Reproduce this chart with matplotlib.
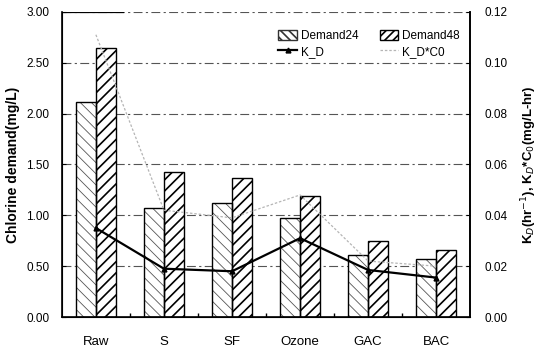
import numpy as np
import matplotlib.pyplot as plt
from matplotlib.patches import Patch

plt.rcParams['font.family'] = ['Liberation Sans', 'DejaVu Sans']

processes = ['Raw', 'S', 'SF', 'Ozone', 'GAC', 'BAC']
demand24 = [2.11, 1.07, 1.12, 0.97, 0.61, 0.57]
demand48 = [2.64, 1.43, 1.37, 1.19, 0.75, 0.66]
k_d = [0.035, 0.019, 0.018, 0.031, 0.0185, 0.0155]
k_d_c0 = [0.111, 0.042, 0.039, 0.048, 0.022, 0.020]

x = np.arange(len(processes))
w = 0.29

fig = plt.figure(figsize=(5.38, 3.48), dpi=100)
ax = fig.add_axes([0.115, 0.089, 0.759, 0.877])

# grid: dash-dot grey lines
for yv in [0.5, 1.0, 1.5, 2.0, 2.5, 3.0]:
    ax.axhline(yv, color='#555555', lw=0.8, ls=(0, (8, 3, 2, 3)), zorder=0)
ax.axhline(3.0, xmin=0, xmax=0.15, color='black', lw=1.6, zorder=1)

plt.rcParams['hatch.linewidth'] = 0.6
ax.bar(x - w / 2, demand24, w, color='white', edgecolor='#555555', hatch='\\\\\\',
       linewidth=0, zorder=2)
ax.bar(x - w / 2, demand24, w, color='none', edgecolor='black', linewidth=1.0, zorder=3)
d24_handle = Patch(facecolor='white', edgecolor='#333333', hatch='\\\\\\\\', linewidth=1.0)
plt.rcParams['hatch.linewidth'] = 1.2
ax.bar(x + w / 2, demand48, w, color='white', edgecolor='black', hatch='///',
       linewidth=1.0, zorder=2)
d48_handle = Patch(facecolor='white', edgecolor='black', hatch='////', linewidth=1.0)

ax.set_xlim(-0.5, 5.5)
ax.set_ylim(0, 3.0)
ax.set_yticks(np.arange(0, 3.01, 0.5))
ax.set_yticklabels(['%.2f' % v for v in np.arange(0, 3.01, 0.5)], fontsize=8.5)
ax.set_xticks(x)
ax.set_xticklabels(processes, fontsize=9.5)
ax.set_xticks(np.arange(0.5, 5.5, 1.0), minor=True)
ax.tick_params(axis='x', which='major', length=0, pad=14)
ax.tick_params(axis='x', which='minor', length=3, direction='in', width=1)
ax.tick_params(axis='y', direction='in', length=3, pad=9)
ax.spines['top'].set_visible(False)
for s in ['left', 'bottom', 'right']:
    ax.spines[s].set_linewidth(1.2)
ax.set_ylabel('Chlorine demand(mg/L)', fontsize=10, fontweight='bold')
ax.yaxis.set_label_coords(-0.103, 0.5)

ax2 = ax.twinx()
ax2.set_ylim(0, 0.12)
ax2.set_yticks(np.arange(0, 0.121, 0.02))
ax2.set_yticklabels(['%.2f' % v for v in np.arange(0, 0.121, 0.02)], fontsize=8.5)
ax2.tick_params(axis='y', direction='in', length=3, pad=10)
ax2.spines['top'].set_visible(False)
ax2.spines['right'].set_linewidth(1.2)
kd_line, = ax2.plot(x, k_d, color='black', lw=1.6, marker='^', ms=3.5, zorder=5)
kdc0_line, = ax2.plot(x, k_d_c0, color='#b5b5b5', lw=0.9, ls=(0, (2, 1.5)), zorder=4)
ax2.set_ylabel(r'K$_D$(hr$^{-1}$), K$_D$*C$_0$(mg/L-hr)', fontsize=9.5, fontweight='bold')
ax2.yaxis.set_label_coords(1.12, 0.5)

handles = [d24_handle, kd_line, d48_handle, kdc0_line]
labels = ['Demand24', 'K_D', 'Demand48', 'K_D*C0']
ax2.legend(handles, labels, ncol=2, loc='upper right', bbox_to_anchor=(1.0, 0.975),
           frameon=False, fontsize=8.5, handlelength=1.6, handleheight=0.8,
           columnspacing=1.8, labelspacing=0.3, handletextpad=0.3)

fig.savefig('out.png', dpi=100)
